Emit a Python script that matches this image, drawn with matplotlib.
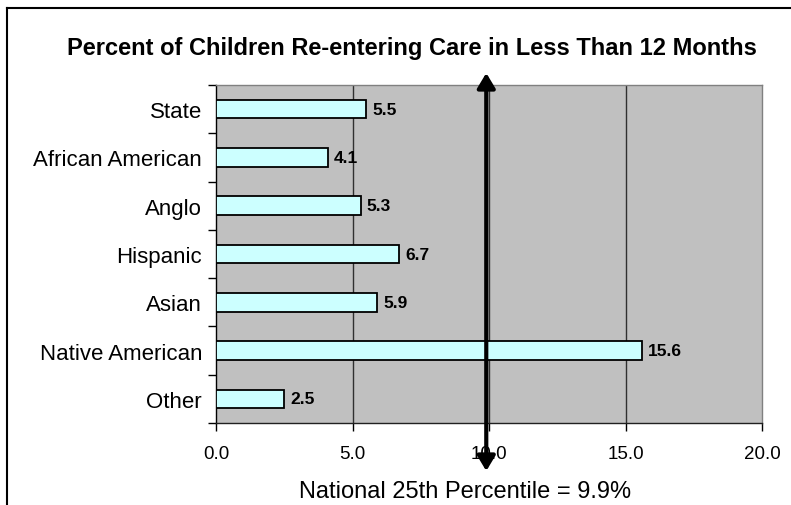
import numpy as np
import matplotlib
matplotlib.use('Agg')
import matplotlib.pyplot as plt
from matplotlib.lines import Line2D

plt.rcParams['font.family'] = ['Liberation Sans', 'DejaVu Sans']

# Re-entry rates by group (percent)
groups = ['State', 'African American', 'Anglo', 'Hispanic', 'Asian',
          'Native American', 'Other']
rates = [5.5, 4.1, 5.3, 6.7, 5.9, 15.6, 2.5]
national_pct = 9.9
xticks = [0, 5, 10, 15, 20]

TITLE = 'Percent of Children Re-entering Care in Less Than 12 Months'
NOTE = 'National 25th Percentile = 9.9%'

fig = plt.figure(figsize=(7.91, 5.06), dpi=100)
ax = fig.add_axes([216 / 791, 1 - 424 / 506, 546 / 791, 338 / 506])
ax.set_facecolor('#c0c0c0')

ypos = np.arange(len(groups))
ax.barh(ypos, rates, height=0.385, color='#ccffff', edgecolor='black',
        linewidth=1.3, zorder=3)
for y, v in zip(ypos, rates):
    ax.annotate(f'{v:.1f}', xy=(v, y), xytext=(6, 0), textcoords='offset pixels',
                va='center', ha='left', fontsize=12.5, fontweight='bold', zorder=4)

ax.set_xlim(0, 20)
ax.set_ylim(len(groups) - 0.5, -0.5)

# category labels sit between boundary ticks
ax.set_yticks(ypos)
ax.set_yticklabels(groups, fontsize=16)
ax.set_yticks(np.arange(len(groups) + 1) - 0.5, minor=True)
ax.tick_params(axis='y', which='major', length=0, pad=10)
ax.tick_params(axis='y', which='minor', length=6, width=1, direction='out')

ax.set_xticks(xticks)
ax.set_xticklabels([f'{t:.1f}' for t in xticks], fontsize=13.5)
ax.tick_params(axis='x', length=6, width=1, direction='out', pad=10)

for t in xticks[1:-1]:
    ax.axvline(t, color='#303030', linewidth=1, zorder=2)

ax.spines['left'].set_color('black')
ax.spines['bottom'].set_color('#202020')
ax.spines['top'].set_color('#808080')
ax.spines['right'].set_color('#808080')
for s in ax.spines.values():
    s.set_linewidth(1)

# double-headed marker for the national benchmark
ax.annotate('', xy=(national_pct, 1.0355), xytext=(national_pct, -0.142),
            xycoords=('data', 'axes fraction'), textcoords=('data', 'axes fraction'),
            arrowprops=dict(arrowstyle='<|-|>,head_length=0.45,head_width=0.27',
                            mutation_scale=20, color='black', lw=3,
                            shrinkA=0, shrinkB=0),
            annotation_clip=False, zorder=5)

fig.text(465 / 791, 1 - 492 / 506, NOTE, ha='center', va='center', fontsize=17)
fig.text(412 / 791, 1 - 48 / 506, TITLE, ha='center', va='center',
         fontsize=17, fontweight='bold')

# outer frame: left and top edges
fig.add_artist(Line2D([7 / 791, 7 / 791], [0, 1 - 9 / 506], color='black',
                      linewidth=1.5, transform=fig.transFigure))
fig.add_artist(Line2D([7 / 791, 1], [1 - 9 / 506, 1 - 9 / 506], color='black',
                      linewidth=1.5, transform=fig.transFigure))

fig.savefig('out.png', dpi=100)
